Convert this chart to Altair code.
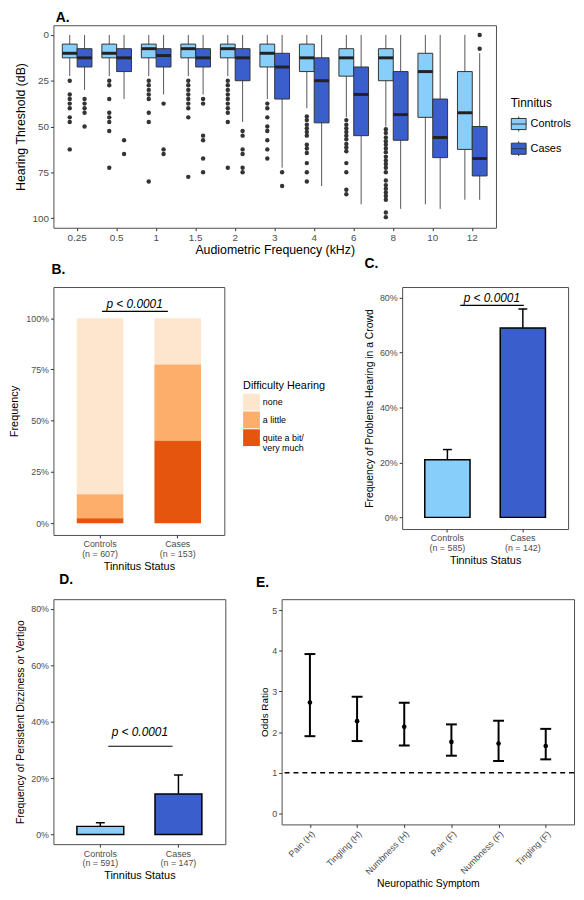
import altair as alt
import pandas as pd

FONT = "Liberation Sans"

# ---------------- Panel A: hearing thresholds ----------------
freqs = ["0.25", "0.5", "1", "1.5", "2", "3", "4", "6", "8", "10", "12"]
groups = ["Controls", "Cases"]

ctrl_lo = [0, 0, 0, 0, 0, 0, 0, 0, 0, 0, 0]
ctrl_q1 = [5, 5, 5, 5, 5, 5, 5, 7.5, 7.5, 10, 20]
ctrl_med = [10, 10, 7.5, 7.5, 7.5, 10, 12.5, 12.5, 12.5, 20, 42.5]
ctrl_q3 = [12.5, 12.5, 12.5, 12.5, 12.5, 17.5, 20, 22.5, 25, 45, 62.5]
ctrl_hi = [22.5, 22.5, 22.5, 22.5, 22.5, 35, 40, 45, 50, 92.5, 90]

case_lo = [0, 0, 0, 0, 0, 0, 0, 0, 0, 0, 10]
case_q1 = [7.5, 7.5, 7.5, 7.5, 7.5, 10, 12.5, 17.5, 20, 35, 50]
case_med = [12.5, 12.5, 11.25, 12.5, 12.5, 17.5, 25, 32.5, 43.5, 56, 67.5]
case_q3 = [17.5, 20, 17.5, 17.5, 25, 35, 48, 55, 57.5, 67, 77]
case_hi = [30, 35, 32.5, 32.5, 47.5, 72.5, 82.5, 92.5, 95, 95, 90]

ctrl_out = {
    "0.25": [25, 32.5, 35, 37.5, 40, 45, 47.5, 62.5],
    "0.5": [25, 27.5, 35, 42.5, 45, 47.5, 52.5, 72.5],
    "1": [25, 27.5, 30, 32.5, 35, 42.5, 47.5, 80],
    "1.5": [25, 27.5, 30, 32.5, 35, 37.5, 40, 45, 77.5],
    "2": [25, 27.5, 30, 32.5, 35, 37.5, 40, 42.5, 47.5, 72.5],
    "3": [37.5, 40, 45, 50, 52.5, 57.5, 62.5, 67.5],
    "4": [44.5, 46.5, 49, 51, 53, 55, 60, 62, 64.5, 70, 75, 80],
    "6": [46.5, 49, 51, 53, 55, 57, 59.5, 61.5, 63.5, 70, 75, 84.5, 87],
    "8": [51.5, 53.5, 56, 58, 60, 62, 64, 66.5, 68.5, 70.5, 72.5, 75,
          79.5, 82, 84, 86, 88, 90, 97, 99.5],
}
case_out = {
    "0.25": [35, 37.5, 40, 42.5, 50],
    "0.5": [57.5, 65],
    "1": [37.5, 62.5, 65],
    "1.5": [35, 37.5, 55, 57.5, 67.5, 75],
    "2": [52.5, 55, 62.5, 65, 72.5, 75],
    "3": [75, 82.5],
    "12": [0, 7.5],
}

# ---------------- Panel B: difficulty hearing ----------------
status = ["Controls", "Cases"]
n_b = [607, 153]
levels = ["none", "a little", "quite a bit/|very much"]
b_none = [85.8, 22.6]
b_little = [11.8, 37.1]
b_quite = [2.4, 40.3]

# ---------------- Panel C: problems hearing in a crowd ----------------
n_c = [585, 142]
c_val = [21.0, 69.0]
c_err = [24.7, 75.9]

# ---------------- Panel D: dizziness / vertigo ----------------
n_d = [591, 147]
d_val = [2.9, 14.4]
d_err = [4.2, 21.1]

# ---------------- Panel E: odds ratios ----------------
symptoms = ["Pain (H)", "Tingling (H)", "Numbness (H)", "Pain (F)", "Numbness (F)", "Tingling (F)"]
or_est = [2.73, 2.27, 2.13, 1.76, 1.72, 1.66]
or_lo = [1.90, 1.78, 1.67, 1.42, 1.29, 1.33]
or_hi = [3.92, 2.87, 2.72, 2.19, 2.28, 2.08]

P_TEXT = "p < 0.0001"
LIGHT = "#87CEFA"
DARK = "#3A5FCD"

# ======================= Panel A =======================
rows = []
for i, f in enumerate(freqs):
    rows.append(dict(freq=f, group="Controls", lo=ctrl_lo[i], q1=ctrl_q1[i], med=ctrl_med[i], q3=ctrl_q3[i], hi=ctrl_hi[i]))
    rows.append(dict(freq=f, group="Cases", lo=case_lo[i], q1=case_q1[i], med=case_med[i], q3=case_q3[i], hi=case_hi[i]))
box_df = pd.DataFrame(rows)
out_rows = []
for f in freqs:
    for v in ctrl_out.get(f, []):
        out_rows.append(dict(freq=f, group="Controls", val=v))
    for v in case_out.get(f, []):
        out_rows.append(dict(freq=f, group="Cases", val=v))
out_df = pd.DataFrame(out_rows)

xA = alt.X("freq:N", sort=freqs,
           scale=alt.Scale(domain=freqs, paddingInner=0.25, paddingOuter=0.225),
           axis=alt.Axis(title="Audiometric Frequency (kHz)", labelAngle=0, labelFontSize=10,
                         titleFontSize=12.5, titlePadding=1))
xoA = alt.XOffset("group:N", sort=groups, scale=alt.Scale(domain=groups, paddingInner=0, paddingOuter=0))
yA_scale = alt.Scale(domain=[-5.3, 105.3], reverse=True, nice=False, zero=False)
yA_axis = alt.Axis(title="Hearing Threshold (dB)", values=[0, 25, 50, 75, 100], labelFontSize=10,
                   titleFontSize=12.5, titlePadding=5)


def yA(field):
    return alt.Y(field, scale=yA_scale, axis=yA_axis)


baseA = alt.Chart(box_df)
whisk = baseA.mark_rule(color="#555555", strokeWidth=1).encode(x=xA, xOffset=xoA, y=yA("lo:Q"), y2="hi:Q")
boxes = baseA.mark_bar(stroke="#333333", strokeWidth=1, opacity=1).encode(
    x=xA, xOffset=xoA, y=yA("q1:Q"), y2="q3:Q",
    color=alt.Color("group:N", sort=groups,
                    scale=alt.Scale(domain=groups, range=[LIGHT, DARK]),
                    legend=alt.Legend(title="Tinnitus", orient="none", legendX=463, legendY=74,
                                      symbolType="M-1,-0.75H1V0.75H-1Z M-1,0H1 M0,-0.75V-1 M0,0.75V1",
                                      symbolSize=225, symbolStrokeColor="#333333", symbolStrokeWidth=1,
                                      symbolOpacity=1, titleFontSize=12, labelFontSize=11,
                                      titleFontWeight="normal", titleColor="black", labelColor="black",
                                      rowPadding=5, titlePadding=6, labelOffset=4)))
meds = baseA.mark_tick(color="#222222", thickness=3, size=15, opacity=1).encode(
    x=xA, xOffset=xoA, y=yA("med:Q"))
outs = alt.Chart(out_df).mark_circle(size=20, color="#333333", opacity=1).encode(
    x=xA, xOffset=xoA, y=yA("val:Q"))

chartA = alt.layer(whisk, boxes, meds, outs).properties(
    width=448, height=205,
    title=alt.Title("A.", anchor="start", dx=42, offset=0, fontSize=14, fontWeight="bold"))

# ======================= helpers for B/C/D =======================

def status_labels(ns):
    return [f"{s}|(n = {n})" for s, n in zip(status, ns)]


def x_status(labels, field="status:N"):
    return alt.X(field, sort=labels,
                 scale=alt.Scale(domain=labels, paddingInner=0.4, paddingOuter=0.3),
                 axis=alt.Axis(title="Tinnitus Status", labelExpr="split(datum.label, '|')",
                               labelAngle=0, labelFontSize=9, labelLineHeight=10,
                               titleFontSize=11, titlePadding=2))


def p_annotation(labels, y_line, y_text, y_enc_fn, x_off, x2_off, dx):
    ann_df = pd.DataFrame({"status": [labels[0]], "b": [labels[1]], "yl": [y_line], "yt": [y_text], "t": [P_TEXT]})
    line = alt.Chart(ann_df).mark_rule(color="black", strokeWidth=1.2, xOffset=x_off, x2Offset=x2_off).encode(
        x=x_status(labels), x2="b:N", y=y_enc_fn("yl:Q"))
    text = alt.Chart(ann_df).mark_text(font=FONT, fontStyle="italic", fontSize=12, color="black",
                                       align="center", baseline="alphabetic", dx=dx).encode(
        x=x_status(labels), y=y_enc_fn("yt:Q"), text="t:N")
    return line, text


# ======================= Panel B =======================
lab_b = status_labels(n_b)
b_rows = []
for i, lab in enumerate(lab_b):
    b_rows.append(dict(status=lab, level=levels[0], pct=b_none[i], ord=2))
    b_rows.append(dict(status=lab, level=levels[1], pct=b_little[i], ord=1))
    b_rows.append(dict(status=lab, level=levels[2], pct=b_quite[i], ord=0))
b_df = pd.DataFrame(b_rows)

yB_scale = alt.Scale(domain=[-5.7, 115.2], nice=False, zero=False)
yB_axis = alt.Axis(title="Frequency", values=[0, 25, 50, 75, 100], labelExpr="datum.value + '%'",
                   labelFontSize=9, titleFontSize=11, titlePadding=6)


def yB(field, **kw):
    return alt.Y(field, scale=yB_scale, axis=yB_axis, **kw)


barsB = alt.Chart(b_df).mark_bar(opacity=1).encode(
    x=x_status(lab_b), y=yB("pct:Q", stack="zero"),
    order=alt.Order("ord:Q", sort="ascending"),
    color=alt.Color("level:N", sort=levels,
                    scale=alt.Scale(domain=levels, range=["#FEE6CE", "#FDAE6B", "#E6550D"]),
                    legend=alt.Legend(title="Difficulty Hearing", orient="none", legendX=192, legendY=94,
                                      symbolType="square", symbolSize=289, symbolStrokeWidth=0,
                                      symbolOpacity=1, rowPadding=1, labelFontSize=9,
                                      labelExpr="split(datum.label, '|')", titleFontSize=11,
                                      titleFontWeight="normal", titleColor="black", labelColor="black",
                                      titlePadding=3, labelOffset=3)))
lineB, textB = p_annotation(lab_b, 103.3, 105.0, yB, 2, -10, 35)
chartB = alt.layer(barsB, lineB, textB).properties(
    width=173, height=251,
    title=alt.Title("B.", anchor="start", dx=43, offset=10, fontSize=14, fontWeight="bold"))

# ======================= Panel C / D =======================

def err_panel(ns, vals, errs, domain, ytitle, y_line, y_text, x_off, x2_off, dx, w, h, title, tdx, toff):
    labs = status_labels(ns)
    df = pd.DataFrame({"status": labs, "val": vals, "err": errs})
    ysc = alt.Scale(domain=domain, nice=False, zero=False)
    yax = alt.Axis(title=ytitle, values=[0, 20, 40, 60, 80], labelExpr="datum.value + '%'",
                   labelFontSize=9, titleFontSize=10.5, titlePadding=5)

    def yf(field):
        return alt.Y(field, scale=ysc, axis=yax)

    xs = x_status(labs)
    base = alt.Chart(df)
    rule = base.mark_rule(color="black", strokeWidth=1.5).encode(x=xs, y=yf("val:Q"), y2="err:Q")
    bars = base.mark_bar(stroke="black", strokeWidth=1.5, opacity=1).encode(
        x=xs, y=yf("val:Q"),
        fill=alt.Fill("status:N", sort=labs, scale=alt.Scale(domain=labs, range=[LIGHT, DARK]), legend=None))
    cap = base.mark_tick(color="black", size=9, thickness=1.5, opacity=1).encode(x=xs, y=yf("err:Q"))
    line, text = p_annotation(labs, y_line, y_text, yf, x_off, x2_off, dx)
    return alt.layer(rule, bars, cap, line, text).properties(
        width=w, height=h,
        title=alt.Title(title, anchor="start", dx=tdx, offset=toff, fontSize=14, fontWeight="bold"))


chartC = err_panel(n_c, c_val, c_err, [-4.25, 83.9], "Frequency of Problems Hearing in a Crowd",
                   77.2, 78.6, 13, 1, 45, 168, 245, "C.", 0, 16)
chartD = err_panel(n_d, d_val, d_err, [-3.4, 83.4], "Frequency of Persistent Dizziness or Vertigo",
                   31.3, 35.1, 8, -6, 40, 174, 248, "D.", 44, 12)

# ======================= Panel E =======================
e_df = pd.DataFrame({"sym": symptoms, "est": or_est, "lo": or_lo, "hi": or_hi})
xE = alt.X("sym:N", sort=symptoms, scale=alt.Scale(type="point", domain=symptoms, padding=0.6),
           axis=alt.Axis(title="Neuropathic Symptom", labelAngle=-45, labelFontSize=9,
                         titleFontSize=10.5, titlePadding=2))
yE_scale = alt.Scale(domain=[-0.27, 5.27], nice=False, zero=False)
yE_axis = alt.Axis(title="Odds Ratio", values=[0, 1, 2, 3, 4, 5], labelFontSize=9,
                   titleFontSize=10, titlePadding=2)


def yE(field):
    return alt.Y(field, scale=yE_scale, axis=yE_axis)


baseE = alt.Chart(e_df)
ref_line = alt.Chart(pd.DataFrame({"r": [1]})).mark_rule(color="black", strokeWidth=1.5,
                                                          strokeDash=[5, 4]).encode(y=yE("r:Q"))
e_rule = baseE.mark_rule(color="black", strokeWidth=2).encode(x=xE, y=yE("lo:Q"), y2="hi:Q")
e_cap_lo = baseE.mark_tick(color="black", size=11, thickness=2, opacity=1).encode(x=xE, y=yE("lo:Q"))
e_cap_hi = baseE.mark_tick(color="black", size=11, thickness=2, opacity=1).encode(x=xE, y=yE("hi:Q"))
e_pt = baseE.mark_circle(color="black", size=22, opacity=1).encode(x=xE, y=yE("est:Q"))
chartE = alt.layer(ref_line, e_rule, e_cap_lo, e_cap_hi, e_pt).properties(
    width=296, height=228,
    title=alt.Title("E.", anchor="start", dx=-4, offset=9, fontSize=14, fontWeight="bold"))

# ======================= Layout =======================
row2 = alt.hconcat(chartB, chartC, spacing=38).resolve_scale(color="independent", fill="independent")
row3 = alt.hconcat(chartD, chartE, spacing=29).resolve_scale(color="independent", fill="independent")
bottom = alt.vconcat(row2, row3, spacing=0).resolve_scale(color="independent", fill="independent")

chart = alt.vconcat(chartA, bottom, spacing=0).resolve_scale(
    color="independent", fill="independent"
).properties(
    padding={"left": 0, "top": -3, "right": 0, "bottom": 0}
).configure_view(
    stroke="#4d4d4d", strokeWidth=1
).configure_axis(
    domain=False, grid=False, ticks=True, tickSize=3, tickColor="#333333", tickWidth=1,
    labelColor="#4d4d4d", labelFont=FONT, titleFont=FONT, titleFontWeight="normal",
    titleColor="black", labelPadding=2
).configure_title(
    font=FONT, color="black"
).configure_legend(
    labelFont=FONT, titleFont=FONT
).configure_text(font=FONT)

chart.save("out.html", embed_options={"renderer": "svg", "actions": False})
